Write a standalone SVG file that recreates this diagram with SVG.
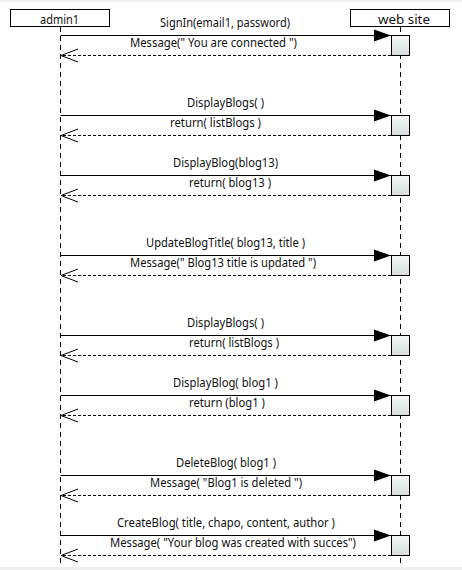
<svg xmlns="http://www.w3.org/2000/svg" width="462" height="570" viewBox="0 0 462 570">
<style>
.bg{fill:#ffffff}
.band{fill:#f0f0f0}
.head{fill:#ffffff;stroke:#000;stroke-width:1}
.life{stroke:#000;stroke-width:1;stroke-dasharray:5,4;fill:none}
.act{fill:url(#actGrad);stroke:#000;stroke-width:1}
.call{stroke:#000;stroke-width:1;fill:none;marker-end:url(#filled)}
.ret{stroke:#000;stroke-width:1;fill:none;stroke-dasharray:3,2;marker-end:url(#open)}
text{font-family:"Noto Sans","Open Sans","Liberation Sans",sans-serif;font-size:12.5px;fill:#111}
</style>
<defs>
<linearGradient id="actGrad" x1="0" y1="0" x2="0" y2="1">
<stop offset="0" stop-color="#f7f9f9"/>
<stop offset="1" stop-color="#d6dcde"/>
</linearGradient>
<marker id="filled" markerUnits="userSpaceOnUse" markerWidth="18" markerHeight="14" refX="17" refY="6.5" orient="auto">
<path d="M0,0.5 L17,6.5 L0,12.5 Z" fill="#000" stroke="none"/>
</marker>
<marker id="open" markerUnits="userSpaceOnUse" markerWidth="19" markerHeight="16" refX="17.5" refY="7" orient="auto">
<path d="M0.5,0.5 L17.5,7 L0.5,13.5" fill="none" stroke="#000" stroke-width="1" stroke-dasharray="none"/>
</marker>
</defs>
<rect class="bg" x="0" y="0" width="462" height="570"/>
<rect class="band" x="0" y="0" width="462" height="2"/>
<rect class="band" x="0" y="567" width="462" height="3"/>

<g id="admin1">
<line class="life" x1="60.5" y1="27" x2="60.5" y2="564"/>
<rect class="head" x="10.5" y="9.5" width="99" height="17"/>
<text x="40" y="23.5" textLength="39" lengthAdjust="spacingAndGlyphs">admin1</text>
</g>

<g id="website">
<line class="life" x1="400.5" y1="27" x2="400.5" y2="564"/>
<rect class="head" x="350.5" y="9.5" width="99" height="17"/>
<text x="378" y="23.5" textLength="52" lengthAdjust="spacingAndGlyphs">web site</text>
<rect class="act" x="391.5" y="35.5" width="18" height="20"/>
<rect class="act" x="391.5" y="115.5" width="18" height="20"/>
<rect class="act" x="391.5" y="175.5" width="18" height="20"/>
<rect class="act" x="391.5" y="255.5" width="18" height="20"/>
<rect class="act" x="391.5" y="335.5" width="18" height="20"/>
<rect class="act" x="391.5" y="395.5" width="18" height="20"/>
<rect class="act" x="391.5" y="475.5" width="18" height="20"/>
<rect class="act" x="391.5" y="535.5" width="18" height="20"/>
</g>

<g id="connectors">
<line class="call" x1="60.5" y1="35.5" x2="391" y2="35.5"/>
<line class="ret" x1="391" y1="55.5" x2="61" y2="55.5"/>
<line class="call" x1="60.5" y1="115.5" x2="391" y2="115.5"/>
<line class="ret" x1="391" y1="135.5" x2="61" y2="135.5"/>
<line class="call" x1="60.5" y1="175.5" x2="391" y2="175.5"/>
<line class="ret" x1="391" y1="195.5" x2="61" y2="195.5"/>
<line class="call" x1="60.5" y1="255.5" x2="391" y2="255.5"/>
<line class="ret" x1="391" y1="275.5" x2="61" y2="275.5"/>
<line class="call" x1="60.5" y1="335.5" x2="391" y2="335.5"/>
<line class="ret" x1="391" y1="355.5" x2="61" y2="355.5"/>
<line class="call" x1="60.5" y1="395.5" x2="391" y2="395.5"/>
<line class="ret" x1="391" y1="415.5" x2="61" y2="415.5"/>
<line class="call" x1="60.5" y1="475.5" x2="391" y2="475.5"/>
<line class="ret" x1="391" y1="495.5" x2="61" y2="495.5"/>
<line class="call" x1="60.5" y1="535.5" x2="391" y2="535.5"/>
<line class="ret" x1="391" y1="555.5" x2="61" y2="555.5"/>

<text x="160" y="27" textLength="130" lengthAdjust="spacingAndGlyphs">SignIn(email1, password)</text>
<text x="130" y="47" textLength="167" lengthAdjust="spacingAndGlyphs">Message(" You are connected ")</text>
<text x="187" y="107" textLength="77" lengthAdjust="spacingAndGlyphs">DisplayBlogs( )</text>
<text x="170" y="127" textLength="91" lengthAdjust="spacingAndGlyphs">return( listBlogs )</text>
<text x="173" y="167" textLength="105" lengthAdjust="spacingAndGlyphs">DisplayBlog(blog13)</text>
<text x="189" y="187" textLength="82" lengthAdjust="spacingAndGlyphs">return( blog13 )</text>
<text x="146" y="247" textLength="159" lengthAdjust="spacingAndGlyphs">UpdateBlogTitle( blog13, title )</text>
<text x="130" y="267" textLength="186" lengthAdjust="spacingAndGlyphs">Message(" Blog13 title is updated ")</text>
<text x="187" y="327" textLength="77" lengthAdjust="spacingAndGlyphs">DisplayBlogs( )</text>
<text x="189" y="347" textLength="90" lengthAdjust="spacingAndGlyphs">return( listBlogs )</text>
<text x="173" y="387" textLength="105" lengthAdjust="spacingAndGlyphs">DisplayBlog( blog1 )</text>
<text x="189" y="407" textLength="76" lengthAdjust="spacingAndGlyphs">return (blog1 )</text>
<text x="176" y="467" textLength="100" lengthAdjust="spacingAndGlyphs">DeleteBlog( blog1 )</text>
<text x="150" y="487" textLength="152" lengthAdjust="spacingAndGlyphs">Message( "Blog1 is deleted ")</text>
<text x="117" y="527" textLength="218" lengthAdjust="spacingAndGlyphs">CreateBlog( title, chapo, content, author )</text>
<text x="110" y="547" textLength="246" lengthAdjust="spacingAndGlyphs">Message( "Your blog was created with succes")</text>
</g>
</svg>
